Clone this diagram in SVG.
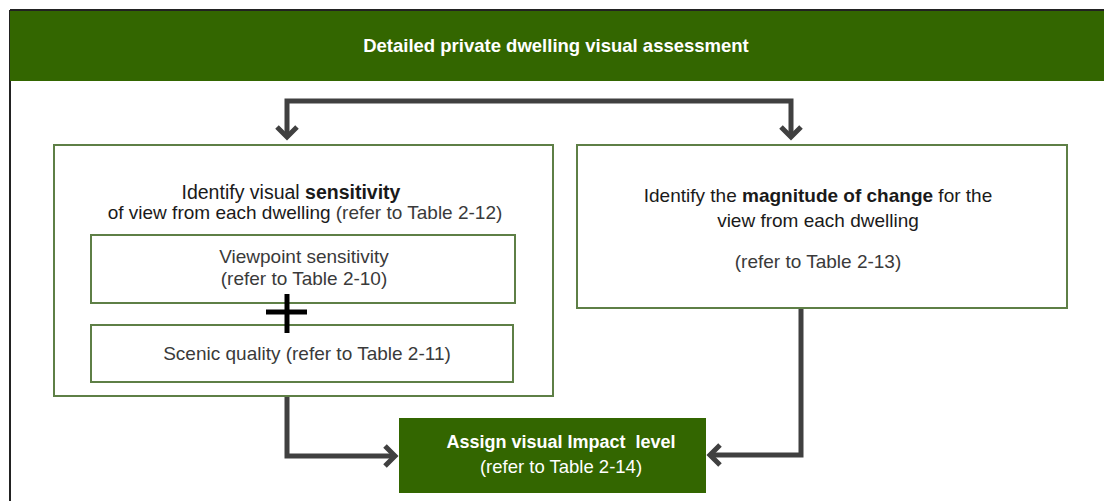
<svg xmlns="http://www.w3.org/2000/svg" width="1104" height="501" viewBox="0 0 1104 501">
  <style>
    .box { fill: #ffffff; stroke: #5e7f46; stroke-width: 2; }
    .green { fill: #336600; }
    .t { font-family: "Liberation Sans", Arial, sans-serif; font-size: 19px; fill: #1a1a1a; text-anchor: middle; }
    .light { fill: #3a3a3a; }
    .b { font-weight: bold; }
    .w { fill: #ffffff; }
    .conn { fill: none; stroke: #404040; stroke-width: 5; }
  </style>
  <defs>
    <marker id="chev" viewBox="-14 -14 28 28" markerWidth="28" markerHeight="28" refX="-2" refY="0" orient="auto-start-reverse" markerUnits="userSpaceOnUse">
      <path d="M-10,-10 L0,0 L-10,10" fill="none" stroke="#404040" stroke-width="5"/>
    </marker>
  </defs>
  <rect width="1104" height="501" fill="#ffffff"/>
  <g id="frame">
    <line x1="10" y1="10" x2="10" y2="501" stroke="#222222" stroke-width="2"/>
    <line x1="10" y1="10" x2="1104" y2="10" stroke="#222222" stroke-width="2"/>
  </g>
  <g id="header">
    <rect class="green" x="10" y="11" width="1094" height="70"/>
    <text class="t b w" x="556" y="52" style="font-size:18.5px">Detailed private dwelling visual assessment</text>
  </g>
  <g id="connectors">
    <path class="conn" d="M287,135 V101 H791 V135" marker-start="url(#chev)" marker-end="url(#chev)"/>
    <path class="conn" d="M287,397 V456 H393" marker-end="url(#chev)"/>
    <path class="conn" d="M801,309 V455 H712" marker-end="url(#chev)"/>
  </g>
  <g id="sensitivity">
    <rect class="box" x="54" y="145" width="499" height="251"/>
    <text class="t" x="291" y="199" style="font-size:19.5px">Identify visual <tspan class="b">sensitivity</tspan></text>
    <text class="t" x="305" y="219">of view from each dwelling <tspan class="light">(refer to Table 2-12)</tspan></text>
  </g>
  <g id="viewpoint">
    <rect class="box" x="91" y="235" width="424" height="68"/>
    <text class="t light" x="304" y="263">Viewpoint sensitivity</text>
    <text class="t light" x="304" y="285">(refer to Table 2-10)</text>
  </g>
  <g id="scenic">
    <rect class="box" x="91" y="325" width="422" height="57"/>
    <text class="t light" x="307" y="360">Scenic quality (refer to Table 2-11)</text>
  </g>
  <g id="plus">
    <line x1="266" y1="312" x2="307" y2="312" stroke="#000000" stroke-width="5"/>
    <line x1="287" y1="294" x2="287" y2="333" stroke="#000000" stroke-width="5"/>
  </g>
  <g id="magnitude">
    <rect class="box" x="577" y="145" width="490" height="163"/>
    <text class="t" x="818" y="202">Identify the <tspan class="b">magnitude of change</tspan> for the</text>
    <text class="t" x="818" y="227">view from each dwelling</text>
    <text class="t light" x="818" y="268">(refer to Table 2-13)</text>
  </g>
  <g id="impact">
    <rect class="green" x="399" y="418" width="307" height="75"/>
    <text class="t b w" x="561" y="448" style="font-size:18px">Assign visual Impact&#160; level</text>
    <text class="t w" x="561" y="473" style="font-size:18.5px">(refer to Table 2-14)</text>
  </g>
</svg>
